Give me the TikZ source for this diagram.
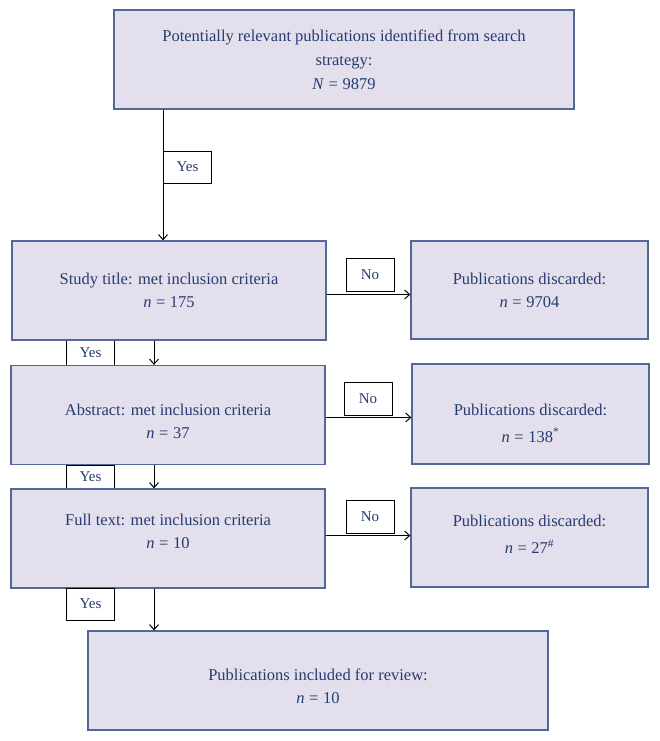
\documentclass[tikz,border=0pt]{standalone}
\usepackage{fontspec}
\setmainfont{Liberation Serif}
\usetikzlibrary{arrows.meta}
\definecolor{boxfill}{RGB}{227,223,237}
\definecolor{boxline}{RGB}{82,104,152}
\definecolor{boxtext}{RGB}{38,60,112}

\begin{document}
\begin{tikzpicture}[x=1pt, y=-1pt,
    stage/.style={draw=boxline, fill=boxfill, line width=1.3pt, inner sep=0pt},
    words/.style={text=boxtext, align=center, font=\fontsize{16.5}{23}\selectfont, inner sep=0pt},
    answer/.style={draw=black, fill=white, line width=1pt, text=boxtext,
        font=\fontsize{15}{18}\selectfont, minimum width=48pt, inner sep=0pt},
    arr/.style={line width=1pt, -{Straight Barb[length=5pt, width=9pt]}}]

    \useasboundingbox (0, 0) rectangle (659, 741);

    \node[answer, minimum height=26pt] (yes1) at (90.5, 353) {Yes};
    \node[answer, minimum height=24pt] (yes2) at (90.5, 477) {Yes};

    \node[stage, minimum width=460pt, minimum height=99pt,
        label={[words]center:{Potentially relevant publications identified from search\\[1pt] strategy:\\[1pt] \textit{N}\;=\;9879}}]
        (search) at (344, 59.5) {};

    \node[stage, minimum width=314pt, minimum height=99pt,
        label={[words]center:{Study title: met inclusion criteria\\ \textit{n}\;=\;175}}]
        (title) at (169, 290.5) {};
    \node[stage, minimum width=314pt, minimum height=99pt,
        label={[words, yshift=-6pt]center:{Abstract: met inclusion criteria\\ \textit{n}\;=\;37}}]
        (abstract) at (168, 415) {};
    \node[stage, minimum width=314pt, minimum height=99pt,
        label={[words, yshift=7pt]center:{Full text: met inclusion criteria\\ \textit{n}\;=\;10}}]
        (fulltext) at (168, 538.5) {};

    \node[stage, minimum width=237pt, minimum height=98pt,
        label={[words]center:{Publications discarded:\\ \textit{n}\;=\;9704}}]
        (drop1) at (529.5, 290) {};
    \node[stage, minimum width=237pt, minimum height=100pt,
        label={[words, yshift=-9pt]center:{Publications discarded:\\[4pt] \textit{n}\;=\;138\textsuperscript{*}}}]
        (drop2) at (530.5, 414) {};
    \node[stage, minimum width=237pt, minimum height=99pt,
        label={[words, yshift=3pt]center:{Publications discarded:\\[4pt] \textit{n}\;=\;27\textsuperscript{\#}}}]
        (drop3) at (529.5, 537.5) {};

    \node[stage, minimum width=460pt, minimum height=99pt,
        label={[words, yshift=-6pt]center:{Publications included for review:\\ \textit{n}\;=\;10}}]
        (review) at (318, 680.5) {};

    \node[answer, minimum height=32pt] (yes0) at (187.5, 167) {Yes};
    \node[answer, minimum height=32pt] (yes3) at (90.5, 604) {Yes};

    \node[answer, minimum height=33pt] (no1) at (370, 274.5) {No};
    \node[answer, minimum height=33pt] (no2) at (368, 398.5) {No};
    \node[answer, minimum height=33pt] (no3) at (370, 516.5) {No};

    \coordinate (spine) at (154, 0);

    \draw[arr] (search.south -| yes0.west) -- (title.north -| yes0.west);
    \draw[arr] (title.south -| spine) -- (abstract.north -| spine);
    \draw[arr] (abstract.south -| spine) -- (fulltext.north -| spine);
    \draw[arr] (fulltext.south -| spine) -- (review.north -| spine);

    \draw[arr] ([yshift=-3pt]title.east |- no1.south) -- ([yshift=-3pt]drop1.west |- no1.south);
    \draw[arr] ([yshift=-2pt]abstract.east |- no2.south) -- ([yshift=-2pt]drop2.west |- no2.south);
    \draw[arr] ([yshift=-2pt]fulltext.east |- no3.south) -- ([yshift=-2pt]drop3.west |- no3.south);
\end{tikzpicture}
\end{document}
